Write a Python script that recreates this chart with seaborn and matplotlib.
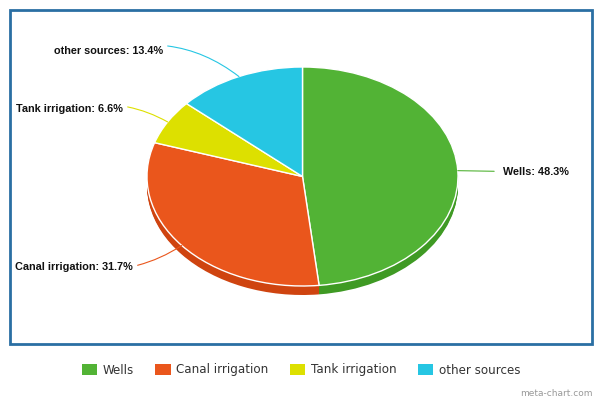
import numpy as np
import matplotlib
matplotlib.use("Agg")
import matplotlib.pyplot as plt
import seaborn as sns
from matplotlib.patches import Patch, Rectangle

# datos
sources = ["Wells", "Canal irrigation", "Tank irrigation", "other sources"]
shares = [48.3, 31.7, 6.6, 13.4]
colors = ["#52b335", "#ea561c", "#dde000", "#26c6e3"]
side_colors = ["#3f9a24", "#cf4410", "#b9bb00", "#1ea6bf"]

sns.set_theme(style="white")
plt.rcParams["font.family"] = ["DejaVu Sans"]

W, H = 602, 401
fig = plt.figure(figsize=(W / 100, H / 100), dpi=100)

# marco azul
frame = fig.add_axes([0, 0, 1, 1])
frame.set_xlim(0, W)
frame.set_ylim(H, 0)
frame.axis("off")
frame.add_patch(Rectangle((10, 10), 582, 334, fill=False, edgecolor="#2a6fa3", lw=2))

# pie (caja de la elipse en pixeles)
cx, cy, rx, ry = 302.5, 176.5, 155.5, 109.5
depth = 9 / ry
ax = fig.add_axes([(cx - rx) / W, (H - cy - ry) / H, 2 * rx / W, 2 * ry / H])

for d in np.linspace(depth, 0.005, 10):
    ax.pie(shares, colors=side_colors, startangle=90, counterclock=False,
           center=(0, -d), radius=1, wedgeprops={"linewidth": 0})
wedges, _ = ax.pie(shares, colors=colors, startangle=90, counterclock=False,
                   radius=1, wedgeprops={"edgecolor": "white", "linewidth": 1})
ax.set_aspect("auto")
ax.set_xlim(-1, 1)
ax.set_ylim(-1, 1)
ax.axis("off")

# etiquetas con conectores
label_pos = [(503, 172, "left", 0.0), (133, 267, "right", 0.2),
             (123, 109, "right", -0.2), (163, 51, "right", -0.25)]
cum = np.cumsum([0] + shares[:-1])
for i, s in enumerate(sources):
    theta = np.deg2rad((cum[i] + shares[i] / 2) / 100 * 360)
    anchor = (np.sin(theta), np.cos(theta))
    tx, ty, ha, rad = label_pos[i]
    ax.annotate(f"{s}: {shares[i]}%", xy=anchor, xycoords="data",
                xytext=(tx, H - ty), textcoords="figure pixels",
                ha=ha, va="center", fontsize=7.8, fontweight="bold",
                family="Liberation Sans", color="#111111",
                annotation_clip=False,
                arrowprops=dict(arrowstyle="-", color=colors[i], lw=0.8,
                                shrinkA=4 if ha == "left" else 1, shrinkB=0,
                                connectionstyle=f"arc3,rad={rad}"))

# leyenda
handles = [Patch(facecolor=c, edgecolor="none") for c in colors]
fig.legend(handles, sources, loc="center", bbox_to_anchor=(0.5, 1 - 370 / H),
           ncol=4, frameon=False, fontsize=8.6, handlelength=1.3,
           handleheight=1.05, handletextpad=0.45, columnspacing=1.8,
           labelcolor="#333333")

fig.text(593 / W, 1 - 393 / H, "meta-chart.com", ha="right", va="center",
         fontsize=6.5, color="#999999")

fig.savefig("out.png", dpi=100)
